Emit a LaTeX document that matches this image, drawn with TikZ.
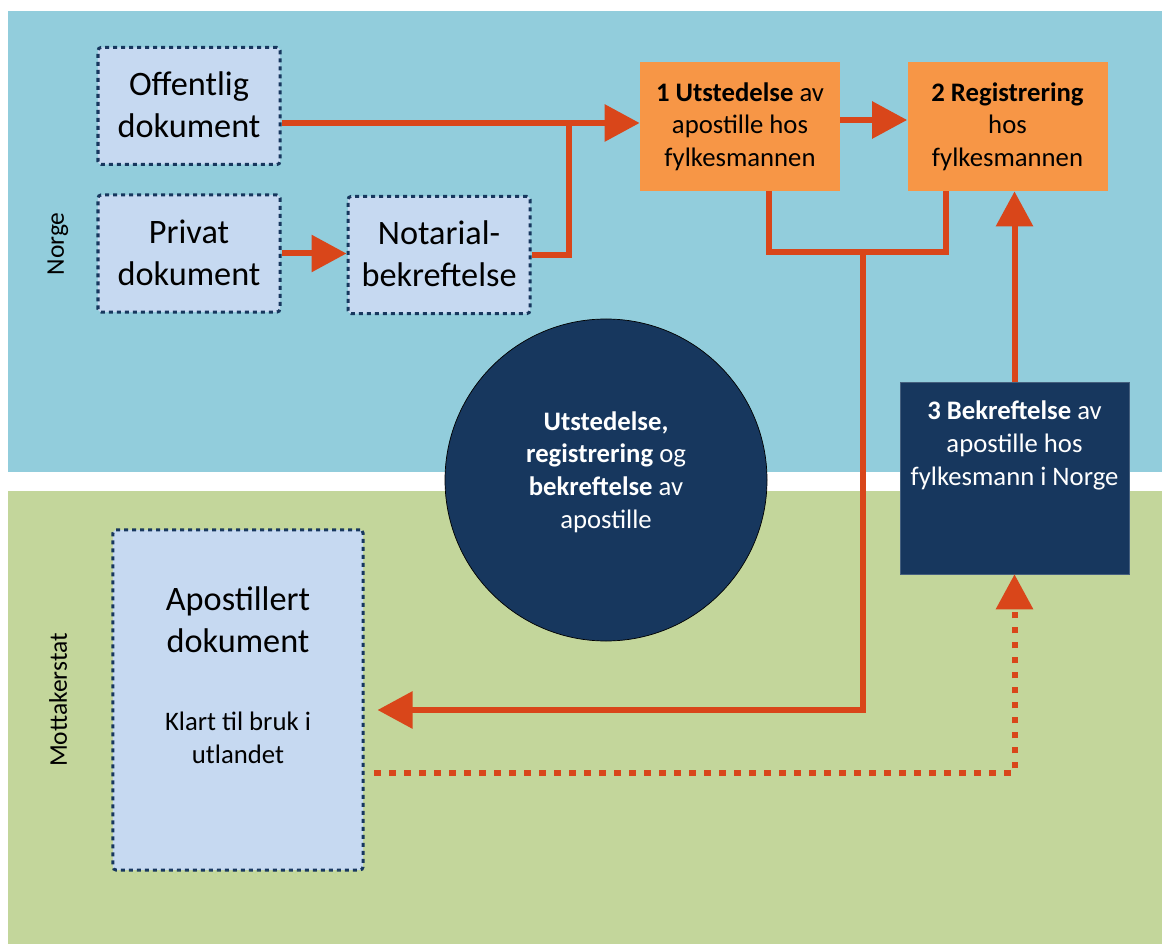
\documentclass[tikz,border=0pt]{standalone}
\usepackage{fontspec}
\setmainfont{Carlito}
\usetikzlibrary{arrows.meta}

\definecolor{bgblue}{HTML}{92CDDC}
\definecolor{bggreen}{HTML}{C3D69B}
\definecolor{docfill}{HTML}{C6D9F1}
\definecolor{navy}{HTML}{17375E}
\definecolor{orangefill}{HTML}{F79646}
\definecolor{arrowred}{HTML}{D9461A}

\begin{document}
\begin{tikzpicture}[
  x=0.2mm, y=-0.2mm,            % <-- 1 unit = 1 pixel of the sketch
  bigtext/.style={font=\fontsize{19.5}{23.8}\selectfont},
  smalltext/.style={font=\fontsize{15.2}{18.6}\selectfont},
  docbox/.style={rectangle, draw=navy, fill=docfill, line width=0.6mm,
    dash pattern=on 0.8mm off 0.8mm, rounded corners=0.6mm,
    minimum width=36.4mm, minimum height=23.4mm, inner sep=0pt},
  orangebox/.style={rectangle, fill=orangefill, minimum width=40mm,
    minimum height=25.8mm, align=center, smalltext, inner sep=0pt},
  darkbox/.style={rectangle, fill=navy, draw=navy!80!white, line width=0.3pt,
    minimum width=45.8mm, minimum height=38.4mm},
  disc/.style={circle, fill=navy, draw=black, line width=0.4pt,
    minimum size=64.4mm, inner sep=0pt},
  txt/.style={align=center, inner sep=0pt},
  flow/.style={draw=arrowred, line width=1.2mm},
  arr/.style={flow, -{Triangle[length=7mm,width=7.2mm]}},
  dotarr/.style={arr, dash pattern=on 1.3mm off 1.7mm},
  side/.style={font=\fontsize{14.5}{17}\selectfont, rotate=90}
]

\useasboundingbox (0,0) rectangle (1162,944);

% ===================== Background bands =====================
\fill[bgblue]  (8,11)  rectangle (1162,472);
\fill[bggreen] (8,491) rectangle (1162,944);

\node[side] (norge) at (58,244) {Norge};
\node[side] (mottaker) at (58,700) {Mottakerstat};

% ===================== Norge: documents =====================
\node[docbox] (offentlig) at (189,106) {};
\node[txt, bigtext] (offtxt) at (189,105) {Offentlig\\dokument};

\node[docbox] (privat) at (189,253.5) {};
\node[txt, bigtext] (privtxt) at (189,253) {Privat\\dokument};

\node[docbox] (notarial) at (439,255) {};
\node[txt, bigtext] (nottxt) at (439,254) {Notarial-\\bekreftelse};

% ===================== Steps =====================
\node[orangebox] (box1) at (740,126.5)
  {{\bfseries 1 Utstedelse} av\\apostille hos\\fylkesmannen};
\node[orangebox] (box2) at (1007.5,126.5)
  {{\bfseries 2 Registrering}\\hos\\fylkesmannen};

\node[darkbox] (box3) at (1014.5,478) {};
\node[txt, smalltext, text=white] (box3txt) at (1014.5,445.5)
  {{\bfseries 3 Bekreftelse} av\\apostille hos\\fylkesmann i Norge};

\node[disc] (disc) at (606,480) {};
\node[txt, smalltext, text=white] (disctxt) at (606,472)
  {{\bfseries Utstedelse,}\\{\bfseries registrering} og\\{\bfseries bekreftelse} av\\apostille};

% ===================== Mottakerstat =====================
\node[docbox, minimum width=50mm, minimum height=68mm] (apost) at (238,700) {};
\node[txt, bigtext] (aposttitle) at (238,620) {Apostillert\\dokument};
\node[txt, smalltext] (apostsub) at (238,737.5) {Klart til bruk i\\utlandet};

% ===================== Connectors =====================
\coordinate (j1)     at (569,123);
\coordinate (b1)     at (769,252);
\coordinate (b2)     at (946,252);
\coordinate (mid)    at (863,252);
\coordinate (down)   at (863,710);
\coordinate (dstart) at (374,773);

\draw[arr] (offentlig.east |- j1) -- (box1.west |- j1);
\draw[flow] (notarial.east) -| (j1);
\draw[arr] (privat.east) -- (privat.east -| notarial.west);

\draw[arr] ([yshift=1.3mm]box1.east) -- ([yshift=1.3mm]box2.west);

\draw[flow] (box1.south -| b1) -- (b1) -- (b2) -- (box2.south -| b2);
\draw[arr, shorten >=2.6mm] (mid) -- (down) -- (apost.east |- down);

\draw[arr] (box3.north) -- (box3.north |- box2.south);
\draw[dotarr] (dstart) -| (box3.south);

\end{tikzpicture}
\end{document}
